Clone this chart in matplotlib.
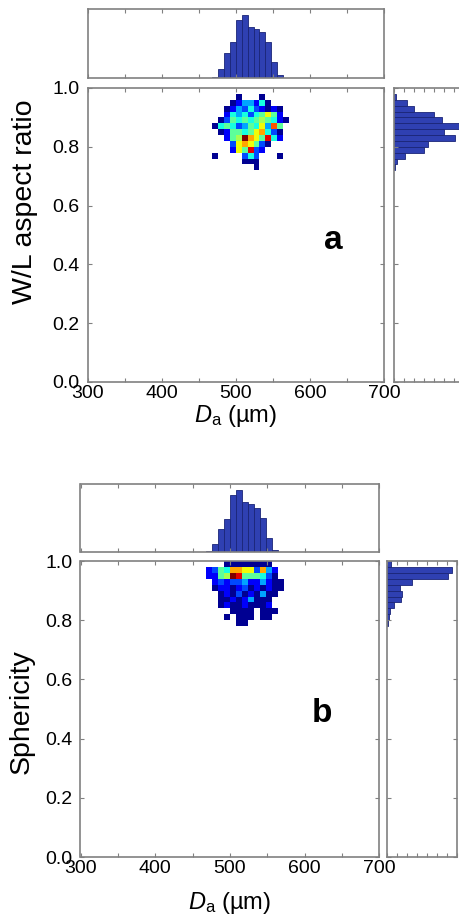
import numpy as np
import matplotlib
matplotlib.use("Agg")
import matplotlib.pyplot as plt
from matplotlib.ticker import MultipleLocator

plt.rcParams["font.family"] = ["Liberation Sans", "DejaVu Sans"]
plt.rcParams["mathtext.fontset"] = "custom"
plt.rcParams["mathtext.rm"] = "Liberation Sans"
plt.rcParams["mathtext.it"] = "Liberation Sans:italic"

# diameter bins (um), shared by both panels
da_edges = [468, 476, 484, 492, 500, 508, 516, 524, 532, 540, 548, 556, 564, 572]

# marginal histogram of D_a (first 12 bins)
da_counts_a = [4, 26, 75, 107, 175, 189, 152, 147, 137, 107, 47, 9]
da_counts_b = [4, 23, 70, 100, 172, 185, 150, 145, 133, 102, 42, 7]

# W/L aspect ratio bins and marginal counts (ascending)
ar_edges = [0.72, 0.74, 0.76, 0.78, 0.80, 0.82, 0.84, 0.86, 0.88, 0.90, 0.92, 0.94, 0.96, 0.98]
ar_counts = [3, 8, 33, 91, 103, 183, 151, 215, 143, 120, 61, 38, 6]

# sphericity bins and marginal counts (ascending)
sph_edges = [0.78, 0.80, 0.82, 0.84, 0.86, 0.88, 0.90, 0.92, 0.94, 0.96, 0.98, 1.00]
sph_counts = [3, 6, 10, 20, 42, 45, 38, 75, 183, 195, 13]

# 2D counts, rows listed top (high value) to bottom, columns follow da_edges
ar_grid = [
    [0, 0, 0, 0, 1, 0, 0, 0, 1, 0, 0, 0, 0],
    [0, 0, 0, 1, 2, 4, 4, 2, 5, 1, 0, 0, 0],
    [0, 0, 1, 2, 4, 3, 5, 3, 2, 1, 2, 1, 0],
    [0, 0, 2, 5, 4, 5, 3, 5, 6, 8, 6, 2, 0],
    [0, 1, 3, 6, 5, 6, 5, 6, 7, 6, 5, 2, 1],
    [1, 5, 6, 5, 3, 4, 6, 5, 8, 4, 10, 6, 0],
    [0, 1, 2, 6, 6, 5, 6, 8, 9, 5, 3, 1, 0],
    [0, 0, 2, 6, 7, 12, 9, 8, 6, 11, 5, 2, 0],
    [0, 0, 0, 3, 8, 9, 8, 6, 3, 1, 0, 0, 0],
    [0, 0, 0, 2, 8, 6, 11, 3, 2, 0, 0, 0, 0],
    [1, 0, 0, 0, 0, 3, 5, 3, 0, 0, 0, 1, 0],
    [0, 0, 0, 0, 0, 1, 1, 1, 0, 0, 0, 0, 0],
    [0, 0, 0, 0, 0, 0, 0, 1, 0, 0, 0, 0, 0],
]
sph_grid = [
    [0, 0, 0, 1, 1, 1, 1, 1, 1, 1, 1, 0, 0],
    [2, 3, 6, 5, 9, 9, 8, 8, 3, 9, 4, 2, 0],
    [2, 2, 6, 7, 12, 11, 6, 6, 6, 5, 3, 1, 0],
    [0, 2, 3, 2, 3, 3, 4, 2, 2, 4, 2, 1, 1],
    [0, 1, 2, 2, 1, 2, 3, 1, 2, 1, 2, 1, 1],
    [0, 0, 1, 2, 1, 3, 1, 2, 1, 4, 1, 1, 0],
    [0, 0, 1, 1, 2, 1, 2, 4, 1, 1, 1, 0, 0],
    [0, 0, 1, 2, 1, 1, 2, 1, 1, 1, 2, 0, 0],
    [0, 0, 0, 0, 1, 1, 1, 1, 0, 1, 1, 1, 0],
    [0, 0, 0, 1, 0, 1, 1, 1, 0, 1, 1, 0, 0],
    [0, 0, 0, 0, 0, 1, 1, 0, 0, 0, 0, 0, 0],
]

W, H = 460, 918
BAR_FACE = "#2f40b2"
BAR_EDGE = "#1a2578"
SPINE = "#808080"


def px_axes(fig, x0, y0, x1, y1):
    return fig.add_axes([x0 / W, 1 - y1 / H, (x1 - x0) / W, (y1 - y0) / H])


def style(ax):
    for s in ax.spines.values():
        s.set_color(SPINE)
        s.set_linewidth(1.2)
    ax.tick_params(which="both", direction="in", top=True, right=True,
                   color=SPINE, length=3, width=0.8)


def draw_panel(fig, box, top_box, right_box, grid, y_edges, top_counts, right_counts,
               top_max, ylabel, ylabel_pos, xlabel_pos, letter, letter_xy):
    x0, y0, x1, y1 = box
    ax = px_axes(fig, x0, y0, x1, y1)
    counts = np.array(grid[::-1], dtype=float)
    counts = np.ma.masked_where(counts == 0, counts)
    ax.pcolormesh(da_edges, y_edges, counts, cmap="jet", vmin=0.8, vmax=12)
    ax.set_xlim(300, 700)
    ax.set_ylim(0, 1)
    ax.set_xticks([300, 400, 500, 600, 700])
    ax.xaxis.set_minor_locator(MultipleLocator(50))
    ax.set_yticks([0, 0.2, 0.4, 0.6, 0.8, 1.0])
    ax.set_yticklabels(["0.0", "0.2", "0.4", "0.6", "0.8", "1.0"])
    style(ax)
    ax.tick_params(axis="x", labelsize=14, pad=2.5)
    ax.tick_params(axis="y", labelsize=14, pad=6)
    ax.text(letter_xy[0], letter_xy[1], letter, fontsize=24, fontweight="bold",
            ha="center", va="center")

    fig.text(ylabel_pos[0] / W, 1 - ylabel_pos[1] / H, ylabel, rotation=90,
             fontsize=20.5, ha="center", va="center")
    fig.text(xlabel_pos[0] / W, 1 - xlabel_pos[1] / H, r"$D_\mathrm{a}$ (µm)",
             fontsize=17, ha="center", va="center")

    # top marginal
    axt = px_axes(fig, *top_box)
    axt.bar(da_edges[:len(top_counts)], top_counts, width=np.diff(da_edges)[:len(top_counts)],
            align="edge", color=BAR_FACE, edgecolor=BAR_EDGE, linewidth=0.6)
    axt.set_xlim(300, 700)
    axt.set_ylim(0, top_max)
    axt.xaxis.set_major_locator(MultipleLocator(50))
    axt.set_yticks([])
    style(axt)
    axt.tick_params(labelbottom=False, labelleft=False)

    # right marginal
    axr = px_axes(fig, *right_box)
    axr.barh(y_edges[:-1], right_counts, height=np.diff(y_edges), align="edge",
             color=BAR_FACE, edgecolor=BAR_EDGE, linewidth=0.6)
    axr.set_ylim(0, 1)
    axr.set_xlim(0, 210)
    axr.set_yticks([0, 0.2, 0.4, 0.6, 0.8, 1.0])
    axr.xaxis.set_major_locator(MultipleLocator(30))
    style(axr)
    axr.tick_params(labelbottom=False, labelleft=False)


fig = plt.figure(figsize=(W / 100, H / 100), dpi=100)

draw_panel(fig, (87.5, 88, 384, 382), (87.5, 9, 384, 78), (394, 88, 464, 382),
           ar_grid, ar_edges, da_counts_a, ar_counts, 207,
           "W/L aspect ratio", (25, 202), (236, 416), "a", (631, 0.48))

draw_panel(fig, (80.5, 561, 379.5, 857), (80.5, 484, 379.5, 552), (387, 561, 457, 857),
           sph_grid, sph_edges, da_counts_b, sph_counts, 204,
           "Sphericity", (22, 712), (230, 903), "b", (623, 0.486))

fig.savefig("out.png", dpi=100, facecolor="white")
